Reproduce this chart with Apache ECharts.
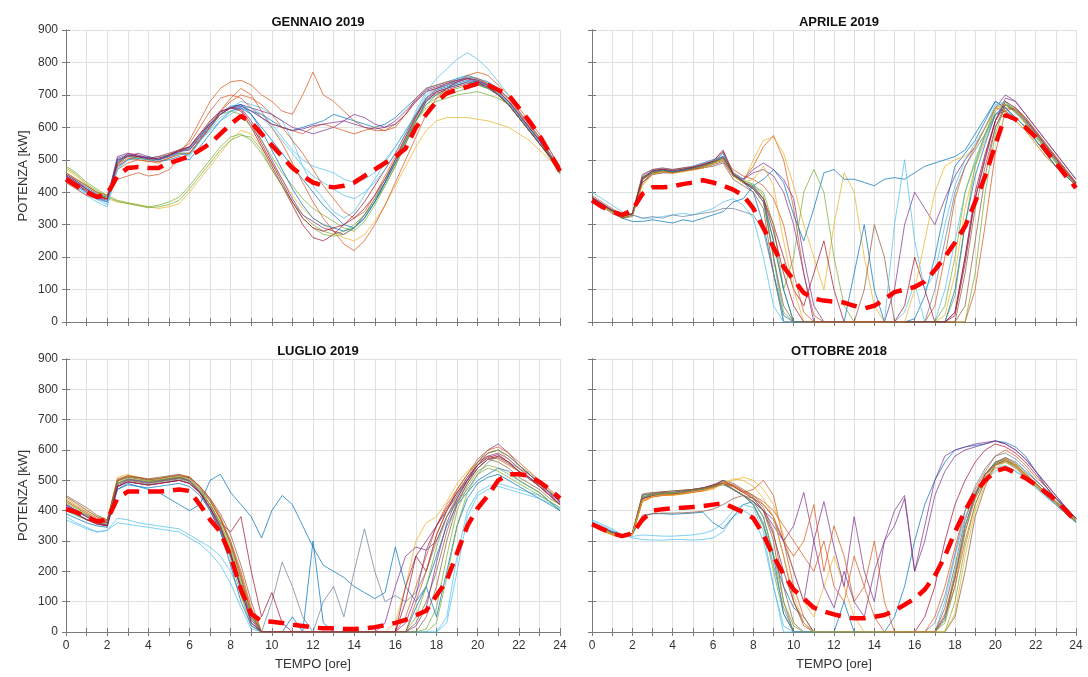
<!DOCTYPE html>
<html>
<head>
<meta charset="utf-8">
<script src="https://cdn.jsdelivr.net/npm/echarts@6/dist/echarts.min.js"></script>
<style>
html,body{margin:0;padding:0;background:#fff;}
#chart{width:1088px;height:677px;}
</style>
</head>
<body>
<div id="chart"></div>
<script>
// ---------- DATA ----------
const TIME = [0,0.5,1,1.5,2,2.5,3,3.5,4,4.5,5,5.5,6,6.5,7,7.5,8,8.5,9,9.5,10,10.5,11,11.5,12,12.5,13,13.5,14,14.5,15,15.5,16,16.5,17,17.5,18,18.5,19,19.5,20,20.5,21,21.5,22,22.5,23,23.5,24];
const X_TICKS = [0,2,4,6,8,10,12,14,16,18,20,22,24];
const TITLES = ['GENNAIO 2019','APRILE 2019','LUGLIO 2019','OTTOBRE 2018'];

const GEN_MEAN = [440,420,400,385,395, 450,475,478,475,475, 490,500,510,530,550, 580,610,635,615,580, 545,510,475,450,430, 420,415,420,430,450, 470,490,510,535,600, 640,680,705,715,725, 735,730,715,700,660, 620,575,520,465];
const GEN_DAYS = [
 [450,430,410,385,370, 500,510,505,510,500, 515,530,540,580,610, 640,660,670,650,640, 620,600,590,600,610, 620,640,630,620,610, 600,610,630,660,690, 720,730,740,750,760, 750,740,720,690,650, 610,570,530,480],
 [460,440,420,400,390, 470,490,500,495,490, 505,520,560,620,680, 720,740,745,730,700, 680,650,640,700,770, 700,680,650,620,600, 590,590,610,640,680, 710,720,730,740,750, 745,730,710,680,640, 600,560,520,470],
 [470,450,420,400,380, 370,365,360,355,350, 355,365,400,440,480, 520,560,590,580,540, 490,440,390,350,320, 300,280,260,250,270, 310,360,420,480,540, 590,620,630,630,630, 625,620,610,600,580, 560,530,500,470],
 [480,460,430,410,390, 375,368,362,355,360, 370,385,420,460,500, 540,570,580,560,520, 470,420,370,330,300, 280,270,280,300,330, 370,420,480,550,620, 670,690,700,710,720, 730,720,700,680,640, 600,560,510,460],
 [440,420,400,380,370, 500,510,520,510,500, 510,530,530,570,610, 640,660,660,620,560, 500,440,380,330,310, 290,280,270,290,330, 380,430,490,550,620, 680,710,720,740,750, 740,720,700,670,630, 590,550,510,460],
 [430,410,390,370,355, 470,500,510,505,510, 515,520,510,560,600, 640,660,680,670,660, 640,620,560,480,420, 380,340,320,340,390, 440,490,540,590,640, 700,720,730,750,760, 750,730,710,680,640, 600,560,520,470],
 [450,430,400,390,380, 490,520,515,505,510, 520,530,540,580,620, 650,660,650,600,540, 480,420,360,300,260, 250,270,300,330,370, 420,470,520,580,640, 690,710,720,730,740, 740,730,700,670,630, 590,550,510,470],
 [440,420,400,390,380, 480,500,505,500,495, 500,510,500,540,580, 620,650,660,640,600, 560,520,480,440,400, 360,330,300,290,320, 370,430,500,560,620, 680,700,720,730,740, 735,720,700,670,630, 590,550,510,460],
 [430,410,390,380,380, 440,450,460,450,455, 470,500,520,560,600, 650,690,720,700,650, 600,550,490,430,370, 320,280,240,220,250, 300,360,430,500,570, 640,690,720,740,760, 770,760,730,700,660, 620,580,530,480],
 [450,430,410,390,380, 510,520,510,505,500, 510,520,520,560,600, 640,660,670,660,650, 640,620,600,590,580, 590,600,620,640,630, 610,600,610,640,680, 710,720,730,740,750, 745,730,710,680,640, 600,560,510,470],
 [440,420,400,380,370, 480,500,510,505,500, 510,520,520,560,590, 620,640,660,650,630, 600,560,520,480,450, 430,410,390,380,400, 430,470,520,580,650, 710,750,780,810,830, 810,780,740,700,650, 610,570,520,470],
 [460,440,420,400,380, 490,510,505,500,505, 510,520,520,560,600, 640,650,640,600,560, 510,460,420,380,350, 330,310,290,280,310, 360,420,480,550,620, 670,700,710,720,730, 730,720,700,670,630, 590,550,510,460],
 [460,440,420,400,390, 480,500,510,505,500, 515,530,550,600,650, 690,700,690,660,630, 610,600,590,580,600, 610,600,590,580,590, 600,590,600,640,690, 720,730,740,745,750, 745,735,715,690,650, 610,570,520,475],
 [455,435,415,395,385, 495,515,510,505,500, 512,525,535,570,610, 645,665,670,640,590, 530,470,410,360,320, 300,290,280,290,320, 370,430,490,560,630, 690,715,725,735,745, 740,725,705,675,635, 595,555,515,470],
 [475,455,425,405,385, 372,365,358,352,355, 362,375,410,450,490, 530,560,575,570,530, 470,420,370,320,290, 270,265,270,290,330, 380,440,500,560,620, 660,680,690,700,705, 710,700,690,670,630, 590,550,505,455],
 [445,425,405,390,380, 485,505,500,495,495, 505,515,520,560,600, 650,680,700,690,670, 640,600,560,520,470, 420,380,340,320,340, 390,450,510,570,630, 690,720,735,745,755, 750,735,715,685,645, 605,565,520,470],
 [435,415,395,378,362, 475,500,505,500,505, 512,518,515,555,595, 630,650,665,660,640, 610,570,530,500,480, 470,460,440,430,440, 460,500,540,590,640, 690,715,730,745,755, 745,730,705,675,635, 595,555,515,465],
 [445,425,405,385,375, 505,515,512,505,502, 512,525,530,565,605, 640,660,665,650,630, 610,600,590,595,605, 610,615,620,610,600, 595,600,620,650,685, 715,725,735,745,752, 745,730,710,680,640, 600,560,515,470],
 [455,435,410,392,378, 488,512,510,502,505, 515,528,538,575,615, 648,660,655,610,550, 490,430,370,320,290, 280,290,300,320,350, 390,440,500,570,635, 685,705,715,725,735, 735,725,700,670,630, 590,550,510,468]
];

const APR_MEAN = [375,355,340,330,345, 395,415,415,418,425, 430,437,430,420,408, 390,350,290,230,170, 130,90,72,66,63, 60,50,42,50,70, 92,100,108,125,160, 200,245,295,370,450, 546,638,625,600,570, 530,490,450,413];
const APR_DAYS = [
 [380,360,340,320,330, 440,465,470,465,470, 475,480,490,520,450, 430,400,300,150,20, 0,0,0,0,0, 0,0,0,0,0, 0,0,10,80,200, 350,480,520,560,620, 680,660,630,600,560, 520,480,450,420],
 [390,370,350,330,330, 430,460,465,460,465, 470,480,490,500,460, 440,480,540,575,500, 350,150,20,0,0, 0,0,0,0,0, 0,0,0,0,50, 200,380,480,540,600, 660,650,620,590,550, 510,480,450,420],
 [370,355,340,325,330, 420,455,465,460,465, 470,475,490,510,450, 430,500,560,570,520, 420,300,200,100,300, 460,400,200,50,0, 0,0,0,0,0, 20,150,350,480,560, 640,650,620,590,550, 510,480,450,420],
 [380,360,345,330,335, 450,470,475,470,475, 480,490,500,510,460, 440,470,490,470,440, 380,200,50,0,0, 0,0,0,0,0, 0,0,0,0,0, 0,30,200,380,500, 620,690,680,640,600, 560,520,480,440],
 [375,360,340,320,330, 440,460,465,460,470, 475,480,490,500,450, 430,420,380,250,100, 0,0,0,0,0, 0,0,0,0,0, 0,0,0,0,0, 0,80,300,480,580, 660,680,650,610,570, 530,490,450,420],
 [400,380,360,340,330, 320,320,325,330,335, 330,340,350,370,380, 360,320,200,50,0, 0,0,0,0,0, 0,0,0,0,0, 0,30,120,0,0, 100,250,400,490,570, 640,660,630,600,560, 520,480,450,420],
 [385,365,345,325,330, 440,465,470,465,470, 475,485,495,530,460, 430,410,380,300,200, 100,50,150,250,100, 0,0,0,0,0, 0,50,200,100,0, 0,30,200,400,520, 620,670,650,620,580, 540,500,460,425],
 [380,360,340,320,310, 310,315,310,305,315, 310,320,330,340,370, 380,420,440,470,430, 330,250,350,460,470, 440,440,430,420,440, 445,440,460,480,490, 500,510,530,580,630, 680,660,630,600,560, 520,480,450,420],
 [370,355,335,320,325, 430,455,460,460,465, 470,475,480,490,440, 420,400,350,150,0, 0,0,0,0,0, 0,0,100,300,200, 0,0,0,0,0, 0,0,50,250,450, 600,670,650,620,580, 540,500,460,420],
 [380,360,340,325,330, 440,460,465,460,465, 470,480,490,500,450, 430,420,400,300,100, 200,400,470,400,200, 50,0,0,0,0, 0,0,0,0,0, 0,0,0,150,400, 580,670,660,630,590, 550,510,470,430],
 [380,360,345,330,330, 430,455,460,460,465, 470,475,485,495,450, 440,460,470,450,400, 300,150,0,0,0, 0,0,0,0,0, 100,300,400,350,300, 380,450,500,540,600, 660,700,680,640,600, 560,520,480,440],
 [375,355,340,325,330, 320,325,320,330,325, 330,335,340,350,350, 340,330,280,150,0, 0,0,0,0,0, 0,0,0,0,0, 0,0,0,0,100, 250,400,480,530,580, 640,650,630,600,560, 520,480,450,420],
 [380,360,345,330,335, 445,465,470,465,470, 480,490,500,510,460, 440,420,380,200,0, 0,0,0,0,0, 0,0,0,0,0, 300,500,250,100,150, 300,420,500,550,600, 670,680,650,620,580, 540,500,460,425],
 [378,358,342,322,332, 445,462,468,462,468, 474,482,492,505,455, 435,425,390,200,30, 0,0,0,0,0, 0,0,0,0,0, 0,0,0,0,0, 50,200,400,500,580, 650,675,650,615,575, 535,495,455,420],
 [382,362,343,324,332, 438,460,466,461,466, 472,480,492,505,470, 450,440,420,380,300, 150,30,0,0,0, 0,0,0,0,0, 0,0,0,0,0, 0,0,0,100,300, 520,650,660,630,590, 550,510,470,430],
 [385,365,345,328,332, 442,463,468,463,468, 475,483,493,510,455, 435,410,370,250,100, 0,0,0,0,0, 0,150,300,100,0, 0,0,0,0,0, 0,100,300,450,550, 640,670,645,615,575, 535,495,455,420],
 [376,357,341,322,330, 455,470,472,470,474, 478,485,495,505,455, 430,410,370,200,50, 0,0,0,0,0, 0,0,0,0,0, 0,0,0,0,0, 0,0,150,350,480, 600,660,655,625,585, 545,505,465,425],
 [372,356,340,324,330, 425,455,462,458,463, 468,474,486,500,450, 430,440,480,420,250, 100,0,0,0,0, 0,0,0,0,0, 0,0,100,250,400, 480,500,510,540,600, 660,670,645,615,575, 535,495,455,420],
 [383,363,343,326,333, 445,466,471,466,471, 477,486,496,525,455, 432,415,380,280,150, 50,0,0,0,0, 0,0,0,0,0, 0,0,0,0,0, 0,20,180,380,510, 620,680,660,625,585, 545,505,465,428]
];

const LUG_MEAN = [405,395,380,365,370, 440,463,463,463,463, 465,470,465,420,370, 330,250,140,60,36, 34,30,24,20,15, 12,12,10,10,12, 16,22,30,40,55, 70,120,170,260,350, 408,450,500,520,520, 515,495,470,441];
const LUG_DAYS = [
 [400,385,370,360,370, 470,490,480,470,460, 440,420,400,420,500, 520,460,420,380,310, 400,450,420,350,280, 220,200,180,150,130, 110,130,280,150,100, 150,250,350,420,460, 500,520,540,530,500, 480,460,430,400],
 [420,400,380,360,350, 480,500,495,490,495, 500,505,500,470,420, 350,250,150,50,0, 100,230,150,50,0, 100,150,50,200,340, 200,100,120,100,130, 200,300,380,430,470, 520,560,580,560,540, 520,490,460,430],
 [380,360,345,330,335, 375,370,360,355,350, 345,340,320,300,280, 250,200,120,40,0, 0,0,0,0,0, 0,0,0,0,0, 0,0,0,0,0, 0,0,50,250,400, 460,480,490,480,470, 460,450,430,410],
 [430,410,390,370,360, 500,510,505,500,500, 505,510,510,480,440, 380,300,200,80,0, 0,0,0,0,0, 0,0,0,0,0, 0,0,0,50,150, 250,350,420,470,520, 560,580,570,550,530, 510,480,450,420],
 [440,420,400,380,370, 510,520,510,500,505, 510,515,505,470,430, 370,290,180,60,0, 0,0,0,0,0, 0,0,0,0,0, 0,0,30,150,300, 360,380,430,490,530, 560,590,600,570,540, 520,490,460,430],
 [420,400,380,360,350, 490,505,500,495,500, 505,510,500,460,400, 330,250,150,50,0, 0,0,0,0,0, 0,0,0,0,0, 0,0,0,30,120, 270,350,400,450,500, 560,600,620,590,550, 520,490,460,430],
 [400,385,370,360,355, 490,500,495,490,495, 500,505,495,460,410, 340,240,120,20,0, 0,0,0,0,0, 0,0,0,0,0, 0,0,0,0,0, 10,80,250,400,480, 530,550,540,520,500, 480,460,430,400],
 [410,390,370,355,350, 480,495,490,485,490, 495,500,490,460,420, 360,330,380,200,50, 130,30,0,0,0, 0,0,0,0,0, 0,0,0,100,250, 200,320,400,460,500, 540,570,580,560,530, 510,480,450,420],
 [390,375,360,350,345, 470,485,480,475,480, 485,490,480,450,400, 330,220,100,20,0, 0,0,50,0,300, 30,0,0,0,0, 0,0,0,0,80, 150,50,200,350,440, 490,510,520,500,480, 460,440,420,400],
 [450,430,410,385,370, 500,515,510,505,510, 515,520,510,480,440, 390,320,220,100,0, 0,0,0,0,0, 0,0,0,0,0, 0,0,0,0,30, 100,200,330,430,490, 540,570,560,540,510, 490,470,440,420],
 [430,410,390,370,360, 490,505,500,495,500, 505,510,500,465,420, 360,280,170,60,0, 0,0,0,0,0, 0,0,0,0,0, 0,0,0,0,0, 0,30,180,350,460, 520,540,530,510,490, 470,450,430,410],
 [420,400,385,370,360, 480,495,490,485,490, 495,500,490,460,410, 350,260,150,40,0, 0,0,0,0,0, 0,0,0,0,0, 0,30,150,250,280, 270,300,380,440,500, 550,590,600,580,550, 520,490,460,430],
 [370,355,340,330,335, 360,355,350,345,340, 335,330,310,290,260, 220,160,80,10,0, 0,0,0,0,0, 0,0,0,0,0, 0,0,0,0,0, 0,0,30,200,380, 450,470,480,470,460, 450,440,425,405],
 [425,405,385,365,355, 495,510,505,498,502, 508,512,505,470,420, 355,270,160,50,0, 0,0,0,0,0, 0,0,0,0,0, 0,0,0,0,50, 150,280,380,450,510, 560,590,600,580,550, 525,495,465,435],
 [435,415,395,375,362, 505,515,510,503,506, 512,518,512,480,435, 375,295,190,70,0, 0,0,0,0,0, 0,0,0,0,0, 0,0,0,0,100, 200,320,400,470,520, 570,600,610,590,560, 530,500,470,440],
 [415,398,380,362,352, 485,502,498,492,497, 502,508,498,462,408, 338,255,140,30,0, 0,0,0,0,0, 0,0,0,0,0, 0,0,0,0,20, 80,230,360,440,500, 550,580,590,570,540, 510,485,455,425],
 [408,390,372,357,350, 478,495,490,484,489, 494,500,490,458,410, 345,260,140,30,0, 0,0,0,0,0, 0,0,0,0,0, 0,0,0,150,250, 300,350,410,460,510, 550,575,585,560,530, 505,480,450,420],
 [445,425,402,380,366, 498,512,508,502,506, 512,516,508,475,432, 372,290,180,60,0, 0,0,0,0,0, 0,0,0,0,0, 0,0,0,0,0, 50,150,300,420,490, 540,570,575,555,530, 505,480,450,420]
];

const OTT_MEAN = [355,340,325,316,325, 370,400,405,408,410, 412,415,420,425,410, 395,375,320,250,190, 140,110,80,68,58, 50,45,45,50,56, 70,90,110,140,185, 250,330,400,460,500, 530,540,525,507,485, 460,435,400,364];
const OTT_DAYS = [
 [360,345,330,320,325, 450,455,460,460,465, 470,475,480,500,470, 450,420,350,250,150, 80,50,0,0,0, 0,0,0,0,0, 50,150,300,420,500, 560,600,610,615,620, 630,625,610,580,530, 480,440,400,370],
 [355,340,325,318,325, 440,450,455,455,460, 465,470,480,490,480, 460,470,500,450,300, 150,50,0,0,0, 0,0,0,0,0, 0,0,0,0,50, 150,280,400,470,530, 580,600,580,550,510, 480,440,410,375],
 [350,335,320,315,320, 430,445,450,450,455, 460,465,470,490,500, 510,500,470,420,320, 200,100,50,150,250, 150,50,0,0,0, 0,0,0,0,0, 50,200,350,450,520, 560,570,550,520,490, 460,430,400,370],
 [360,345,330,320,325, 440,455,460,460,465, 470,475,485,490,470, 450,430,400,350,300, 350,460,300,430,280, 150,380,200,100,300, 400,450,200,300,450, 530,580,600,610,620, 630,620,600,570,530, 490,450,410,375],
 [355,340,325,315,322, 445,455,458,460,462, 468,472,480,490,470, 450,420,350,200,60, 0,0,0,0,0, 0,0,0,0,0, 0,0,0,0,0, 30,150,330,450,520, 560,570,550,520,490, 460,430,400,365],
 [370,355,340,320,310, 305,303,303,305,305, 303,305,310,330,380, 400,380,300,150,20, 0,0,0,0,0, 0,0,0,0,0, 0,0,0,0,0, 100,250,380,460,510, 540,550,530,510,480, 450,420,390,360],
 [355,340,325,318,322, 440,450,455,455,460, 468,475,485,500,480, 460,440,400,320,200, 100,30,0,0,0, 0,0,0,0,0, 0,0,0,50,150, 300,420,500,560,600, 620,610,590,560,520, 480,440,410,375],
 [360,345,330,318,322, 380,390,390,388,390, 392,395,360,340,380, 420,430,380,250,60, 0,0,0,0,0, 100,0,0,0,0, 0,0,0,0,0, 50,180,350,450,520, 560,575,560,530,500, 470,440,410,375],
 [355,340,325,318,325, 455,460,462,465,468, 470,475,480,500,490, 470,450,420,380,250, 100,20,0,0,0, 0,0,0,0,0, 0,0,0,0,0, 0,50,200,380,480, 550,565,545,515,485, 455,425,395,365],
 [350,335,320,315,320, 430,445,450,452,455, 460,465,475,490,480, 460,440,420,380,300, 250,300,420,200,350, 250,100,150,300,100, 0,0,0,0,0, 50,150,300,420,500, 550,570,550,520,490, 460,430,400,370],
 [358,342,328,318,325, 445,452,456,458,462, 466,470,478,485,470, 450,420,360,220,80, 0,0,0,0,0, 0,0,0,0,0, 0,0,0,0,30, 120,260,400,480,540, 580,590,570,540,500, 470,440,405,370],
 [360,345,330,320,325, 440,450,455,455,460, 465,470,480,490,470, 450,430,400,370,300, 200,100,300,150,80, 200,100,50,200,300, 350,440,200,350,500, 580,600,610,620,625, 630,620,600,570,530, 490,450,410,375],
 [356,341,326,318,324, 452,458,462,465,467, 470,474,482,495,485, 465,445,410,330,150, 30,0,0,0,0, 0,0,0,0,0, 0,0,0,0,0, 40,180,350,450,520, 555,565,545,515,485, 455,425,395,365],
 [357,342,327,318,323, 385,390,392,392,393, 395,398,405,420,440, 450,440,400,300,100, 0,0,0,0,0, 0,0,0,0,0, 0,0,0,0,0, 80,220,370,460,520, 550,560,540,510,480, 450,420,390,362],
 [356,341,326,316,322, 443,452,456,458,461, 466,471,479,488,472, 452,430,380,260,100, 20,0,0,0,0, 0,0,0,0,0, 0,0,0,0,0, 0,100,280,420,500, 550,565,550,520,490, 460,430,400,365],
 [365,350,335,320,315, 320,318,316,316,318, 320,325,335,360,400, 420,410,330,150,0, 0,0,0,0,0, 0,0,0,0,0, 0,0,0,0,0, 50,200,350,440,500, 530,545,530,505,475, 445,420,390,360],
 [352,337,322,316,321, 435,447,452,454,457, 462,467,476,492,485, 465,450,430,400,350, 300,250,200,300,150, 100,250,150,50,0, 0,0,0,0,0, 60,180,330,440,510, 555,575,555,525,490, 460,430,400,370],
 [353,338,323,316,321, 433,447,452,452,457, 462,467,474,488,505, 500,480,440,380,250, 120,30,0,0,0, 0,0,0,0,0, 0,0,0,0,0, 0,60,250,400,490, 540,560,545,515,485, 455,428,398,368]
];

const PANEL_MEANS = [GEN_MEAN, APR_MEAN, LUG_MEAN, OTT_MEAN];
const PANEL_DAYS = [GEN_DAYS, APR_DAYS, LUG_DAYS, OTT_DAYS];

// ---------- STYLE / LAYOUT ----------
const B='#0072BD', O='#D95319', Y='#EDB120', P='#7E2F8E', G='#77AC30', C='#4DBEEE', R='#A2142F', BR='#8c5a3c', GB='#6a7f96';
const PANEL_COLORS = [
  [B,O,Y,G,P,C,R,B,O,P,C,G,O,B,G,O,C,P,R],
  [B,O,Y,P,G,C,R,B,BR,G,P,GB,C,G,O,B,BR,Y,R],
  [B,GB,C,O,Y,P,G,R,B,BR,G,P,C,G,O,P,R,BR],
  [B,O,Y,P,G,C,R,B,BR,O,GB,P,BR,BR,G,C,O,Y]
];
const GRIDS = [
  {left:66, top:30, width:494, height:292},
  {left:592, top:30, width:484, height:292},
  {left:66, top:359, width:494, height:273},
  {left:592, top:359, width:484, height:273}
];
const FONT = '"Liberation Sans", Arial, Helvetica, sans-serif';
const AXIS_COLOR = '#7a7a7a';
const GRID_LINE = '#e0e0e0';

const chart = echarts.init(document.getElementById('chart'), null, {renderer:'canvas'});

const xAxes = [], yAxes = [], series = [], titles = [];
GRIDS.forEach((g, i) => {
  const bottomRow = i >= 2, leftCol = i % 2 === 0;
  xAxes.push({
    type:'value', gridIndex:i, min:0, max:24, interval:1, position:'bottom',
    axisLine:{show:true, lineStyle:{color:AXIS_COLOR, width:1}},
    axisTick:{show:true, inside:true, length:4, lineStyle:{color:AXIS_COLOR}},
    splitLine:{show:true, lineStyle:{color:GRID_LINE, width:1}},
    axisLabel:{show:bottomRow, color:'#333', fontFamily:FONT, fontSize:12, margin:8,
      formatter: v => X_TICKS.indexOf(v) >= 0 ? String(v) : ''},
    name: bottomRow ? 'TEMPO [ore]' : '', nameLocation:'middle', nameGap:26,
    nameTextStyle:{color:'#333', fontFamily:FONT, fontSize:13}
  });
  xAxes.push({
    type:'value', gridIndex:i, min:0, max:24, interval:1, position:'top',
    axisLine:{show:true, lineStyle:{color:AXIS_COLOR, width:1}},
    axisTick:{show:true, inside:true, length:4, lineStyle:{color:AXIS_COLOR}},
    splitLine:{show:false}, axisLabel:{show:false}
  });
  yAxes.push({
    type:'value', gridIndex:i, min:0, max:900, interval:100, position:'left',
    axisLine:{show:true, lineStyle:{color:AXIS_COLOR, width:1}},
    axisTick:{show:true, inside:true, length:4, lineStyle:{color:AXIS_COLOR}},
    splitLine:{show:true, lineStyle:{color:GRID_LINE, width:1}},
    axisLabel:{show:leftCol, color:'#333', fontFamily:FONT, fontSize:12, margin:8},
    name: leftCol ? 'POTENZA [kW]' : '', nameLocation:'middle', nameGap:36, nameRotate:90,
    nameTextStyle:{color:'#333', fontFamily:FONT, fontSize:13}
  });
  yAxes.push({
    type:'value', gridIndex:i, min:0, max:900, interval:100, position:'right',
    axisLine:{show:true, lineStyle:{color:AXIS_COLOR, width:1}},
    axisTick:{show:true, inside:true, length:4, lineStyle:{color:AXIS_COLOR}},
    splitLine:{show:false}, axisLabel:{show:false}
  });
  titles.push({
    text: TITLES[i], left: g.left + g.width/2, top: g.top - 19, textAlign:'center',
    textStyle:{fontFamily:FONT, fontSize:13, fontWeight:'bold', color:'#111'}
  });
  PANEL_DAYS[i].forEach((vals, k) => {
    series.push({
      type:'line', xAxisIndex:2*i, yAxisIndex:2*i, showSymbol:false, silent:true,
      data: TIME.map((t, j) => [t, vals[j]]),
      lineStyle:{width:0.8, color:PANEL_COLORS[i][k % PANEL_COLORS[i].length], opacity:0.9},
      z:2
    });
  });
  series.push({
    type:'line', xAxisIndex:2*i, yAxisIndex:2*i, showSymbol:false, silent:true,
    data: TIME.map((t, j) => [t, PANEL_MEANS[i][j]]),
    lineStyle:{width:4.5, color:'#ff0000', type:[16,9]},
    z:5
  });
});

chart.setOption({
  animation:false,
  backgroundColor:'#ffffff',
  title: titles,
  grid: GRIDS,
  xAxis: xAxes,
  yAxis: yAxes,
  series: series
});
</script>
</body>
</html>
